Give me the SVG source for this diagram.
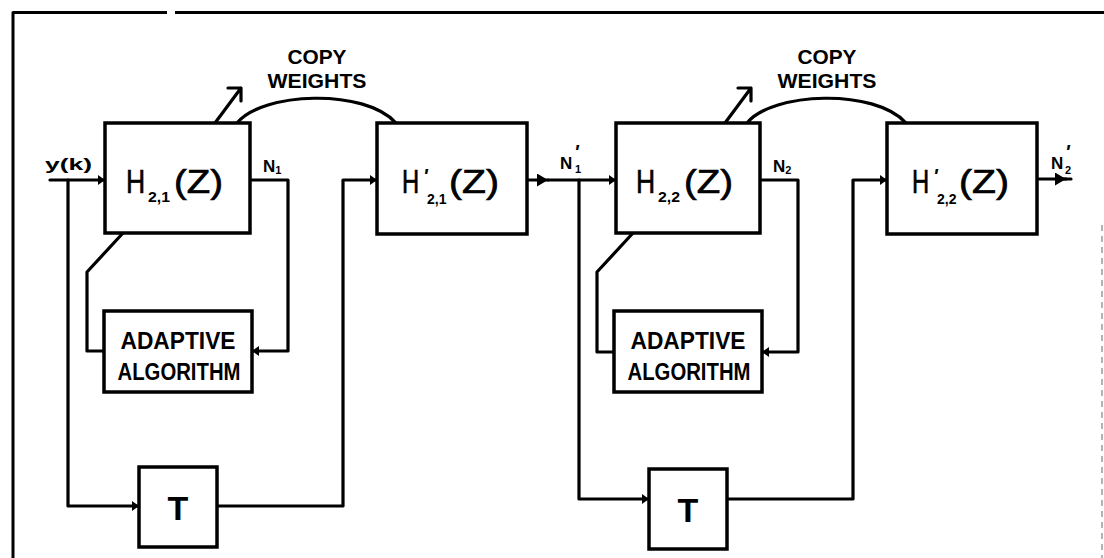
<svg xmlns="http://www.w3.org/2000/svg" width="1104" height="558" viewBox="0 0 1104 558">
<defs>
<style>
.box{fill:#fff;stroke:#000;stroke-width:3.5}
.ln{fill:none;stroke:#000;stroke-width:3.2;stroke-linejoin:round;stroke-linecap:round}
.big{font-family:"Liberation Sans",Arial,sans-serif;font-size:34px;fill:#000;stroke:#000;stroke-width:0.7}
.sub{font-family:"Liberation Sans",Arial,sans-serif;font-size:14px;font-weight:bold;font-style:normal;fill:#000}
.lbl{font-family:"Liberation Sans",Arial,sans-serif;font-weight:bold;fill:#000}
.pr{font-family:"Liberation Sans",Arial,sans-serif;font-weight:bold;font-style:italic;font-size:20px;fill:#000}
</style>
<marker id="ah" markerUnits="userSpaceOnUse" markerWidth="8" markerHeight="10" refX="7" refY="5" orient="auto" viewBox="0 0 8 10"><path d="M0,0 L7,5 L0,10 Z" fill="#000"/></marker>
<marker id="ahL" markerUnits="userSpaceOnUse" markerWidth="12" markerHeight="13" refX="11" refY="6.5" orient="auto" viewBox="0 0 12 13"><path d="M0,0 L11,6.5 L0,13 Z" fill="#000"/></marker>
</defs>
<rect x="0" y="0" width="1104" height="558" fill="#fff"/>
<g id="frame">
<path class="ln" style="stroke-width:3;stroke-linecap:butt" d="M13,558 L13,12.5 L167,12.5 M175,12.5 L1104,12.5"/>
<line x1="1102" y1="225" x2="1102" y2="558" stroke="#9a9a9a" stroke-width="1.5" stroke-dasharray="6 5"/>
</g>
<g id="connectors">
<path class="ln" d="M50,180 L105,180" marker-end="url(#ah)"/>
<path class="ln" d="M68,180 L68,506 L139,506" marker-end="url(#ah)"/>
<path class="ln" d="M217,506 L343,506 L343,180 L377,180" marker-end="url(#ah)"/>
<path class="ln" d="M250,180 L288,180 L288,351 L252,351" marker-end="url(#ah)"/>
<path class="ln" d="M104,351 L87,351 L87,272 L123,233"/>
<path class="ln" d="M215,123 L241,88 M228,88 L241,88 L241,101"/>
<path class="ln" d="M237,123 C262,92 365,88 396,123"/>
<path class="ln" d="M527,180 L548,180" marker-end="url(#ahL)"/>
<path class="ln" d="M548,180 L616,180" marker-end="url(#ah)"/>
<path class="ln" d="M579,180 L579,499 L649,499" marker-end="url(#ah)"/>
<path class="ln" d="M727,499 L853,499 L853,180 L887,180" marker-end="url(#ah)"/>
<path class="ln" d="M760,180 L798,180 L798,352 L762,352" marker-end="url(#ah)"/>
<path class="ln" d="M614,352 L597,352 L597,272 L633,233"/>
<path class="ln" d="M725,123 L751,88 M738,88 L751,88 L751,101"/>
<path class="ln" d="M747,123 C772,92 875,88 906,123"/>
<path class="ln" d="M1037,179 L1066,179" marker-end="url(#ahL)"/>
<path class="ln" d="M1064,179 L1071,179"/>
</g>
<g id="label-yk"><text class="lbl" x="45" y="170" font-size="17" textLength="47" lengthAdjust="spacingAndGlyphs">y(k)</text></g>
<g id="label-N1"><text class="lbl" x="263" y="172" font-size="17">N<tspan font-size="11" dx="0" dy="2">1</tspan></text></g>
<g id="label-N1p"><text class="lbl" x="560" y="169" font-size="17">N</text><text class="pr" x="574" y="159" font-size="18">'</text><text class="lbl" x="575" y="173" font-size="11">1</text></g>
<g id="label-N2"><text class="lbl" x="773" y="172" font-size="17">N<tspan font-size="11" dx="0" dy="2">2</tspan></text></g>
<g id="label-N2p"><text class="lbl" x="1051" y="169" font-size="17">N</text><text class="pr" x="1065" y="159" font-size="18">'</text><text class="lbl" x="1065" y="174" font-size="11">2</text></g>
<g id="label-copy1"><text class="lbl" x="317" y="64" font-size="21" text-anchor="middle" textLength="59" lengthAdjust="spacingAndGlyphs">COPY</text><text class="lbl" x="317" y="88" font-size="21" text-anchor="middle" textLength="99" lengthAdjust="spacingAndGlyphs">WEIGHTS</text></g>
<g id="label-copy2"><text class="lbl" x="827" y="64" font-size="21" text-anchor="middle" textLength="59" lengthAdjust="spacingAndGlyphs">COPY</text><text class="lbl" x="827" y="88" font-size="21" text-anchor="middle" textLength="99" lengthAdjust="spacingAndGlyphs">WEIGHTS</text></g>
<g id="H21">
<rect class="box" x="105" y="123" width="145" height="110"/>
<text class="big" transform="translate(126,193) scale(0.78,1)">H</text>
<text class="sub" x="148" y="202" textLength="22" lengthAdjust="spacingAndGlyphs">2,1</text>
<text class="big" x="174" y="193" textLength="49" lengthAdjust="spacingAndGlyphs">(Z)</text>
</g>
<g id="Hp21">
<rect class="box" x="377" y="123" width="150" height="111"/>
<text class="big" transform="translate(402,193) scale(0.7,1)">H</text>
<text class="pr" x="423" y="183">'</text>
<text class="sub" x="427" y="204">2,1</text>
<text class="big" x="449" y="193" textLength="50" lengthAdjust="spacingAndGlyphs">(Z)</text>
</g>
<g id="AA1">
<rect class="box" x="104" y="311" width="148" height="81"/>
<text class="lbl" x="178" y="349" font-size="23" text-anchor="middle" textLength="115" lengthAdjust="spacingAndGlyphs">ADAPTIVE</text>
<text class="lbl" x="179" y="380" font-size="23" text-anchor="middle" textLength="123" lengthAdjust="spacingAndGlyphs">ALGORITHM</text>
</g>
<g id="T1">
<rect class="box" x="139" y="467" width="78" height="80"/>
<text class="lbl" x="178" y="520" font-size="34" text-anchor="middle">T</text>
</g>
<g id="H22">
<rect class="box" x="616" y="123" width="144" height="110"/>
<text class="big" transform="translate(636,193) scale(0.78,1)">H</text>
<text class="sub" x="658" y="202" textLength="22" lengthAdjust="spacingAndGlyphs">2,2</text>
<text class="big" x="684" y="193" textLength="49" lengthAdjust="spacingAndGlyphs">(Z)</text>
</g>
<g id="Hp22">
<rect class="box" x="887" y="123" width="150" height="111"/>
<text class="big" transform="translate(912,193) scale(0.7,1)">H</text>
<text class="pr" x="933" y="183">'</text>
<text class="sub" x="937" y="204">2,2</text>
<text class="big" x="959" y="193" textLength="50" lengthAdjust="spacingAndGlyphs">(Z)</text>
</g>
<g id="AA2">
<rect class="box" x="614" y="311" width="148" height="81"/>
<text class="lbl" x="688" y="349" font-size="23" text-anchor="middle" textLength="115" lengthAdjust="spacingAndGlyphs">ADAPTIVE</text>
<text class="lbl" x="689" y="380" font-size="23" text-anchor="middle" textLength="123" lengthAdjust="spacingAndGlyphs">ALGORITHM</text>
</g>
<g id="T2">
<rect class="box" x="649" y="469" width="78" height="80"/>
<text class="lbl" x="688" y="522" font-size="34" text-anchor="middle">T</text>
</g>
</svg>
